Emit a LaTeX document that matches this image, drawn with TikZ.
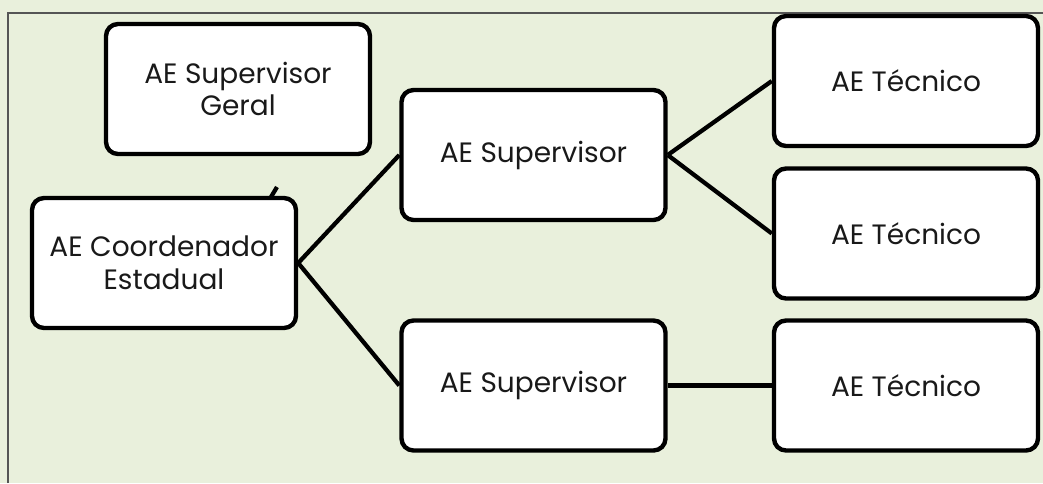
\documentclass[tikz,border=0pt]{standalone}
\usepackage{fontspec}
\setmainfont{Poppins}
\definecolor{bggreen}{RGB}{233,240,220}
\definecolor{framegray}{RGB}{85,85,85}
\tikzset{
  box/.style={draw=black, line width=3.3pt, fill=white, rounded corners=9pt,
    minimum width=198pt, minimum height=97.5pt, align=center, inner sep=0pt,
    font=\fontsize{21}{24.5}\selectfont, text=black!90},
  conn/.style={draw=black, line width=3.2pt},
}
\begin{document}
\begin{tikzpicture}[x=0.75pt,y=-0.75pt]
\fill[bggreen] (0,0) rectangle (1043,483);
\useasboundingbox (0,0) rectangle (1043,483);
\draw[framegray, line width=0.8pt] (8,483) -- (8,13) -- (1043,13);
% stub behind the state coordinator box
\coordinate (stubA) at (268,202);
\coordinate (stubB) at (277,187);
\draw[conn] (stubA) -- (stubB);
\node[box] (SG) at (238,89) {AE Supervisor\\Geral};
\node[box] (CE) at (164,263) {AE Coordenador\\Estadual};
\node[box] (S1) at (533.5,155) {AE Supervisor};
\node[box] (S2) at (533.5,385.5) {AE Supervisor};
\node[box] (T1) at (906,81) {AE Técnico};
\node[box] (T2) at (906,233.5) {AE Técnico};
\node[box] (T3) at (906,385.5) {AE Técnico};
\draw[conn] (CE.east) -- (S1.west);
\draw[conn] (CE.east) -- (S2.west);
\draw[conn] (S1.east) -- (T1.west);
\draw[conn] (S1.east) -- (T2.west);
\draw[conn] (S2.east) -- (T3.west);
\end{tikzpicture}
\end{document}
